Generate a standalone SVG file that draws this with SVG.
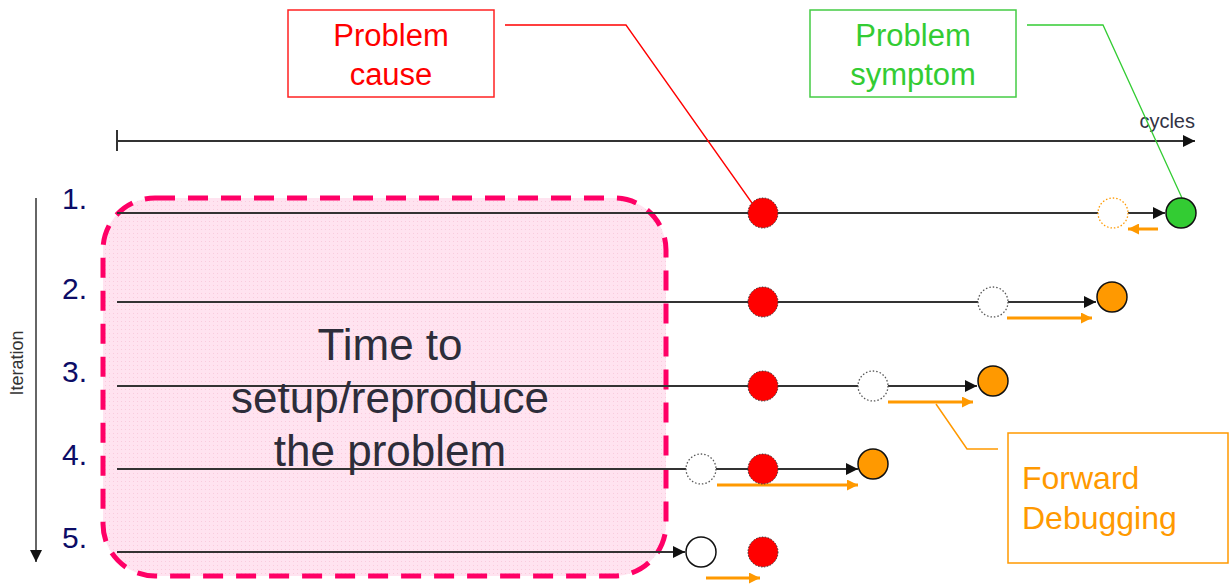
<svg xmlns="http://www.w3.org/2000/svg" width="1229" height="585" viewBox="0 0 1229 585">
<style>
.t{font-family:"Liberation Sans",Arial,sans-serif}
.num{font-size:30px;fill:#0c0c66}
.tl{stroke:#333;stroke-width:2;fill:none}
.fw{stroke:#ff9900;stroke-width:3;fill:none}
.red{fill:#ff0000;stroke:#333;stroke-width:1;stroke-dasharray:1.5 1.5}
.ghost{fill:#fff;stroke:#555;stroke-width:1.3;stroke-dasharray:1.5 2}
.orng{fill:#ff9900;stroke:#111;stroke-width:1.5}
</style>
<defs>
<marker id="ab" viewBox="0 0 10 10" refX="10" refY="5" markerWidth="12" markerHeight="12" markerUnits="userSpaceOnUse" orient="auto"><path d="M0,0L10,5L0,10z" fill="#111"/></marker>
<marker id="ao" viewBox="0 0 10 10" refX="10" refY="5" markerWidth="11" markerHeight="11" markerUnits="userSpaceOnUse" orient="auto"><path d="M0,0L10,5L0,10z" fill="#ff9900"/></marker>
<pattern id="dots" width="4" height="4" patternUnits="userSpaceOnUse"><rect width="4" height="4" fill="#ffe3f0"/><rect x="1" y="1" width="1" height="1" fill="#f9cbdd"/></pattern>
</defs>

<g id="setup-box">
<rect x="103" y="198" width="563" height="378" rx="52" fill="url(#dots)" stroke="#ff0066" stroke-width="5" stroke-dasharray="20 13"/>
</g>

<g id="axes">
<line x1="117" y1="141" x2="1195" y2="141" class="tl" marker-end="url(#ab)"/>
<line x1="117" y1="130" x2="117" y2="151" stroke="#333" stroke-width="2"/>
<text x="1195" y="128" class="t" font-size="20" fill="#333344" text-anchor="end">cycles</text>
<line x1="36" y1="198" x2="36" y2="562" stroke="#333" stroke-width="1.5" marker-end="url(#ab)"/>
<text x="0" y="0" class="t" font-size="18" fill="#333" text-anchor="middle" transform="translate(23,363) rotate(-90)">Iteration</text>
<text x="62" y="209" class="t num">1.</text>
<text x="62" y="299" class="t num">2.</text>
<text x="62" y="382" class="t num">3.</text>
<text x="62" y="465" class="t num">4.</text>
<text x="62" y="548" class="t num">5.</text>
</g>

<g id="connectors">
<line x1="117" y1="213" x2="1165" y2="213" class="tl" marker-end="url(#ab)"/>
<line x1="117" y1="302" x2="1096" y2="302" class="tl" marker-end="url(#ab)"/>
<line x1="117" y1="386" x2="977" y2="386" class="tl" marker-end="url(#ab)"/>
<line x1="117" y1="469" x2="858" y2="469" class="tl" marker-end="url(#ab)"/>
<line x1="117" y1="552" x2="685" y2="552" class="tl" marker-end="url(#ab)"/>
<line x1="1158" y1="229" x2="1128" y2="229" class="fw" marker-end="url(#ao)"/>
<line x1="1007" y1="318" x2="1092" y2="318" class="fw" marker-end="url(#ao)"/>
<line x1="888" y1="402" x2="973" y2="402" class="fw" marker-end="url(#ao)"/>
<line x1="717" y1="485" x2="858" y2="485" class="fw" marker-end="url(#ao)"/>
<line x1="706" y1="578" x2="760" y2="578" class="fw" marker-end="url(#ao)"/>
<polyline points="505,25 626,25 752,203" fill="none" stroke="#ff0000" stroke-width="1.3"/>
<polyline points="1027,25 1103,25 1182,198" fill="none" stroke="#33cc33" stroke-width="1.3"/>
<polyline points="998,449 967,449 936,404" fill="none" stroke="#ff9900" stroke-width="1.5"/>
</g>

<g id="row1">
<circle cx="763" cy="213" r="15" class="red"/>
<circle cx="1113" cy="213" r="15" fill="#fff" stroke="#ff9900" stroke-width="1.3" stroke-dasharray="1.5 2"/>
<circle cx="1181" cy="213" r="15" fill="#33cc33" stroke="#111" stroke-width="1.5"/>
</g>
<g id="row2">
<circle cx="763" cy="302" r="15" class="red"/>
<circle cx="993" cy="302" r="15" class="ghost"/>
<circle cx="1112" cy="297" r="15" class="orng"/>
</g>
<g id="row3">
<circle cx="763" cy="386" r="15" class="red"/>
<circle cx="873" cy="386" r="15" class="ghost"/>
<circle cx="993" cy="381" r="15" class="orng"/>
</g>
<g id="row4">
<circle cx="701" cy="469" r="15" class="ghost"/>
<circle cx="763" cy="469" r="15" class="red"/>
<circle cx="873" cy="464" r="15" class="orng"/>
</g>
<g id="row5">
<circle cx="701" cy="552" r="15" fill="#fff" stroke="#111" stroke-width="1.5"/>
<circle cx="763" cy="552" r="15" class="red"/>
</g>

<g id="setup-text" class="t" font-size="44" fill="#2d2d3a" text-anchor="middle">
<text x="390" y="360">Time to</text>
<text x="390" y="413">setup/reproduce</text>
<text x="390" y="466">the problem</text>
</g>

<g id="problem-cause">
<rect x="288" y="10" width="206" height="87" fill="#fff" stroke="#ff2222" stroke-width="1.5"/>
<text x="391" y="46" class="t" font-size="31" fill="#ff0000" text-anchor="middle">Problem</text>
<text x="391" y="85" class="t" font-size="31" fill="#ff0000" text-anchor="middle">cause</text>
</g>

<g id="problem-symptom">
<rect x="810" y="10" width="206" height="87" fill="#fff" stroke="#44cc44" stroke-width="1.5"/>
<text x="913" y="46" class="t" font-size="31" fill="#33cc33" text-anchor="middle">Problem</text>
<text x="913" y="85" class="t" font-size="31" fill="#33cc33" text-anchor="middle">symptom</text>
</g>

<g id="forward-debugging">
<rect x="1008" y="433" width="220" height="130" fill="#fff" stroke="#ff9900" stroke-width="1.5"/>
<text x="1022" y="489" class="t" font-size="32" fill="#ff9900">Forward</text>
<text x="1022" y="529" class="t" font-size="32" fill="#ff9900">Debugging</text>
</g>
</svg>
